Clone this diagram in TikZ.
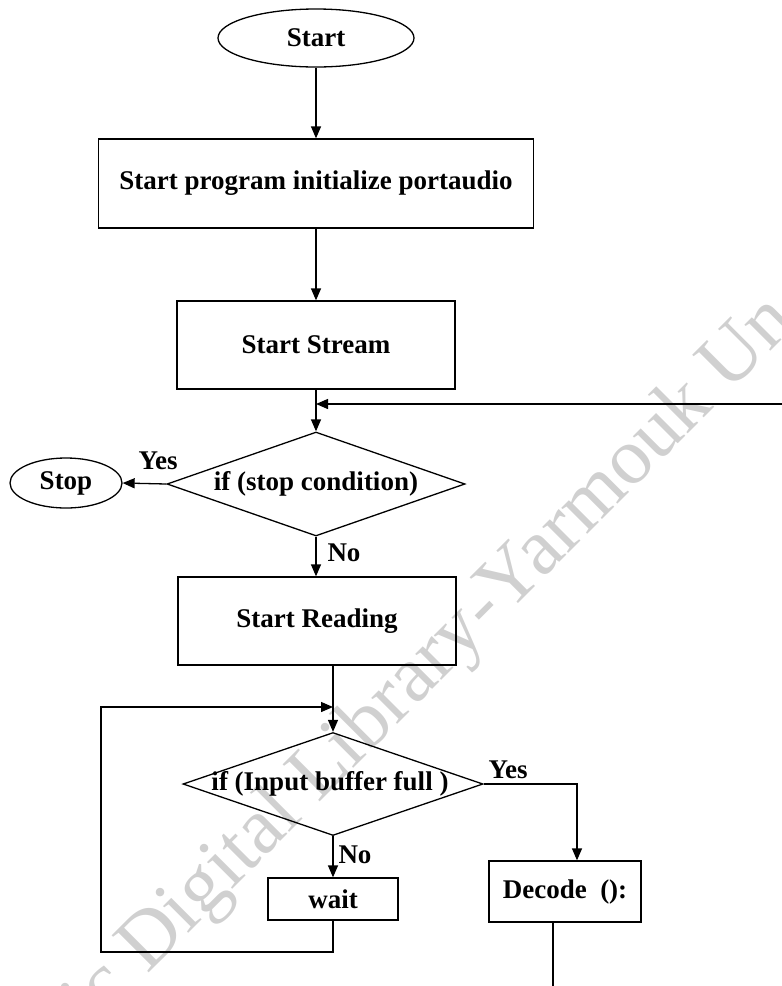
\documentclass[tikz,border=0pt]{standalone}
\usepackage{fontspec}
\setmainfont{Liberation Serif}
\usetikzlibrary{shapes.geometric,arrows.meta}
\definecolor{wmgray}{RGB}{208,208,208}
\begin{document}
\begin{tikzpicture}[x=1pt,y=-1pt,
  every node/.style={font=\fontsize{27}{32}\selectfont\bfseries, inner sep=0pt},
  flow/.style={line width=1.3pt, draw=black},
  arr/.style={flow, -{Triangle[length=12pt,width=10pt]}},
  procbox/.style={rectangle, draw=black, line width=1.3pt},
  terminal/.style={ellipse, draw=black, line width=1.3pt},
  decision/.style={diamond, draw=black, line width=1.3pt, aspect=2.9},
  lbl/.style={font=\fontsize{27}{32}\selectfont\bfseries}]
\useasboundingbox (0,0) rectangle (782,986);

% background watermark
\begin{scope}
  \clip (0,0) rectangle (782,986);
  \node[font=\fontsize{80}{90}\selectfont, text=wmgray, rotate=45, anchor=base west]
    (wm) at (92,1030) {ic Digital Library-Yarmouk Un};
\end{scope}

% nodes
\node[terminal, minimum width=196pt, minimum height=58pt] (start) at (316,38) {Start};
\node[procbox, minimum width=435pt, minimum height=89pt] (init) at (316,183.5) {Start program initialize portaudio};
\node[procbox, minimum width=278pt, minimum height=88pt] (stream) at (316,345) {Start Stream};
\node[decision, minimum width=298pt, minimum height=104pt] (stopq) at (316,484) {};
\node at (stopq) {if (stop condition)};
\node[terminal, minimum width=112pt, minimum height=50pt] (stop) at (66,483) {Stop};
\node[procbox, minimum width=278pt, minimum height=88pt] (read) at (317,621) {Start Reading};
\node[decision, minimum width=300pt, minimum height=103pt] (bufq) at (333,784) {};
\node at (330,784) {if (Input buffer full )};
\node[procbox, minimum width=130pt, minimum height=42pt] (wait) at (333,899) {wait};
\node[procbox, minimum width=152pt, minimum height=61pt] (dec) at (565,891.5) {Decode\ \ ():};

% branch labels
\node[lbl] (yes1) at (158,461) {Yes};
\node[lbl] (no1) at (344,553) {No};
\node[lbl] (yes2) at (508,770) {Yes};
\node[lbl] (no2) at (355,855) {No};

% helper points
\coordinate (rin) at (782,404);
\coordinate (join1) at (316,404);
\coordinate (loopA) at (333,952);
\coordinate (loopB) at (101,952);
\coordinate (loopC) at (101,707);
\coordinate (join2) at (333,707);
\coordinate (yesbend) at (577,784);
\coordinate (decout) at (553,986);

% connectors
\draw[arr] (start.south) -- (init.north);
\draw[arr] (init.south) -- (stream.north);
\draw[arr] (stream.south) -- (stopq.north);
\draw[arr] (rin) -- (join1);
\draw[arr] (stopq.west) -- (stop.east);
\draw[arr] (stopq.south) -- (stopq.south |- read.north);
\draw[arr] (bufq.north |- read.south) -- (bufq.north);
\draw[arr] (wait.south) -- (loopA) -- (loopB) -- (loopC) -- (join2);
\draw[arr] (bufq.south) -- (wait.north);
\draw[arr] (bufq.east) -- (yesbend) -- (yesbend |- dec.north);
\draw[flow] (decout |- dec.south) -- (decout);
\end{tikzpicture}
\end{document}
